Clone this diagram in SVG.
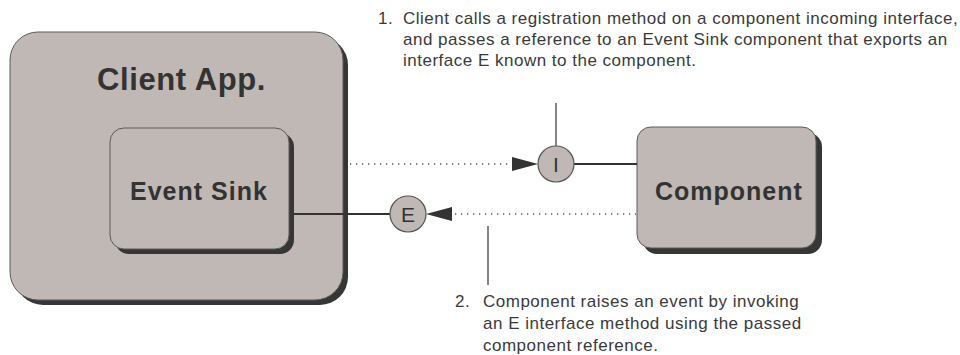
<svg xmlns="http://www.w3.org/2000/svg" width="960" height="355" viewBox="0 0 960 355">
<defs>
<style>
.box{fill:#c0b8b4;stroke:#5a5a5a;stroke-width:1}
.shadow{fill:#363636}
.title{font-family:"Liberation Sans",Arial,sans-serif;font-weight:bold;fill:#333}
.note{font-family:"Liberation Sans",Arial,sans-serif;font-size:17px;letter-spacing:0.5px;fill:#3a3a3a}
.solid{stroke:#333;stroke-width:2;fill:none}
.dot{stroke:#555;stroke-width:1.3;stroke-dasharray:1.3 4.7;fill:none}
.lead{stroke:#333;stroke-width:1.2;fill:none}
.iface{fill:#c0b8b4;stroke:#555;stroke-width:1.2}
.iftext{font-family:"Liberation Sans",Arial,sans-serif;font-size:21px;fill:#333;text-anchor:middle}
.head{fill:#333}
</style>
</defs>
<rect width="960" height="355" fill="#fff"/>
<g id="client-app">
<rect class="shadow" x="15" y="37" width="333" height="268" rx="28"/>
<rect class="box" x="10" y="32" width="333" height="268" rx="28"/>
<text class="title" x="97" y="90" font-size="31" letter-spacing="0.6">Client App.</text>
</g>
<g id="event-sink">
<rect class="shadow" x="115" y="133" width="179" height="121" rx="14"/>
<rect class="box" x="110" y="128" width="179" height="121" rx="14"/>
<text class="title" x="130" y="200" font-size="25" letter-spacing="1">Event Sink</text>
</g>
<g id="component">
<rect class="shadow" x="643" y="133" width="179" height="121" rx="14"/>
<rect class="box" x="637" y="127" width="179" height="121" rx="14"/>
<text class="title" x="655" y="200" font-size="25" letter-spacing="1">Component</text>
</g>
<g id="connectors">
<line class="dot" x1="350" y1="164" x2="512" y2="164"/>
<polygon class="head" points="512,157 538,164 512,171"/>
<line class="solid" x1="574" y1="164" x2="637" y2="164"/>
<line class="solid" x1="294" y1="214" x2="390" y2="214"/>
<polygon class="head" points="452,207 426,214 452,221"/>
<line class="dot" x1="455" y1="214" x2="636" y2="214"/>
<line class="lead" x1="556" y1="103" x2="556" y2="146"/>
<line class="lead" x1="488" y1="226" x2="488" y2="285"/>
</g>
<g id="interface-I">
<circle class="iface" cx="556" cy="164" r="18"/>
<text class="iftext" x="556" y="172">I</text>
</g>
<g id="interface-E">
<circle class="iface" cx="408" cy="214" r="18"/>
<text class="iftext" x="408" y="222">E</text>
</g>
<g id="note-1">
<text class="note" x="378" y="24">1.</text>
<text class="note" x="403" y="24">Client calls a registration method on a component incoming interface,</text>
<text class="note" x="403" y="45">and passes a reference to an Event Sink component that exports an</text>
<text class="note" x="403" y="66">interface E known to the component.</text>
</g>
<g id="note-2">
<text class="note" x="455" y="307">2.</text>
<text class="note" x="483" y="307">Component raises an event by invoking</text>
<text class="note" x="483" y="329">an E interface method using the passed</text>
<text class="note" x="483" y="351">component reference.</text>
</g>
</svg>
